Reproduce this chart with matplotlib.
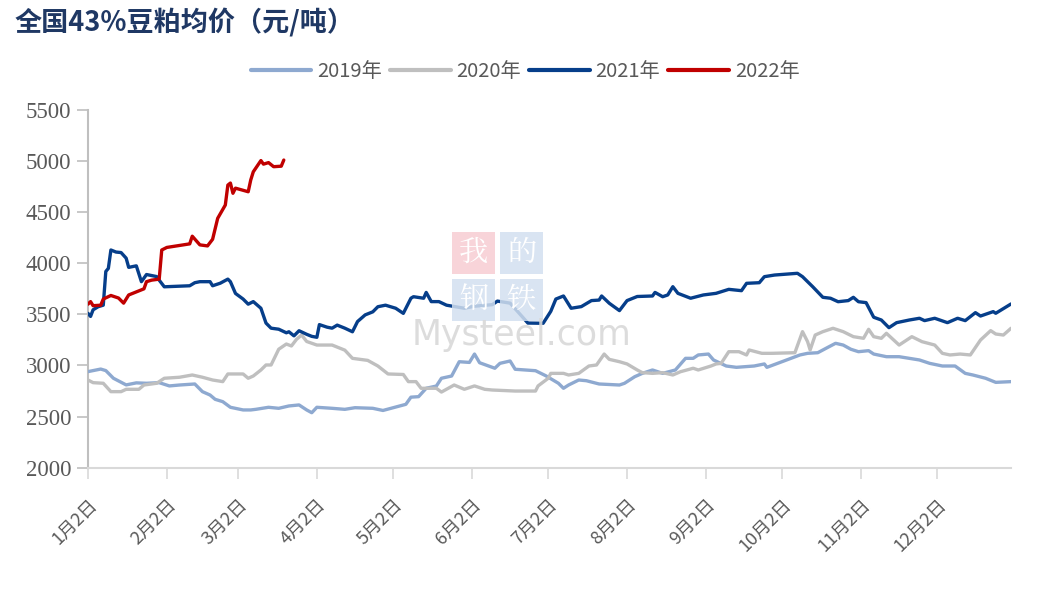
import matplotlib
matplotlib.use("Agg")
import matplotlib.pyplot as plt
import pandas as pd

plt.rcParams['font.family'] = ['Noto Sans CJK SC', 'DejaVu Sans']

# 全国43%豆粕均价 (month-day, 元/吨)
d2019 = ["01-02", "01-07", "01-09", "01-12", "01-17", "01-21", "01-25", "01-30", "02-03", "02-07",
         "02-13", "02-16", "02-19", "02-21", "02-24", "02-27", "03-04", "03-07", "03-09", "03-14",
         "03-18", "03-22", "03-26", "03-29", "03-31", "04-02", "04-08", "04-13", "04-17", "04-24",
         "04-28", "05-04", "05-07", "05-09", "05-12", "05-15", "05-19", "05-21", "05-25", "05-28",
         "06-01", "06-03", "06-05", "06-11", "06-13", "06-17", "06-19", "06-27", "07-01", "07-06",
         "07-08", "07-10", "07-14", "07-17", "07-22", "07-30", "08-01", "08-05", "08-08", "08-12",
         "08-16", "08-21", "08-25", "08-28", "08-30", "09-03", "09-05", "09-10", "09-14", "09-21",
         "09-25", "09-26", "10-03", "10-09", "10-12", "10-16", "10-20", "10-23", "10-26", "10-29",
         "11-01", "11-05", "11-07", "11-12", "11-17", "11-21", "11-25", "11-29", "12-04", "12-09",
         "12-13", "12-16", "12-21", "12-25", "12-31"]
v2019 = [2940, 2965, 2950, 2875, 2810, 2830, 2826, 2832, 2800, 2809,
         2819, 2744, 2711, 2669, 2646, 2591, 2565, 2565, 2571, 2591,
         2581, 2604, 2614, 2565, 2538, 2591, 2581, 2571, 2587, 2581,
         2560, 2600, 2620, 2690, 2695, 2777, 2799, 2875, 2897, 3037,
         3030, 3112, 3027, 2973, 3021, 3044, 2963, 2949, 2900, 2826,
         2777, 2809, 2858, 2851, 2819, 2809, 2826, 2890, 2923, 2956,
         2923, 2956, 3070, 3070, 3103, 3112, 3054, 2995, 2982, 2995,
         3015, 2982, 3047, 3103, 3119, 3125, 3178, 3217, 3200, 3159,
         3135, 3145, 3112, 3086, 3086, 3070, 3054, 3021, 2995, 2995,
         2923, 2907, 2875, 2835, 2842]

d2020 = ["01-02", "01-04", "01-08", "01-11", "01-15", "01-17", "01-22", "01-24", "01-29", "02-01",
         "02-07", "02-12", "02-16", "02-20", "02-24", "02-26", "03-04", "03-06", "03-08", "03-11",
         "03-13", "03-15", "03-18", "03-21", "03-23", "03-25", "03-27", "03-29", "04-02", "04-08",
         "04-13", "04-16", "04-22", "04-26", "04-30", "05-06", "05-08", "05-11", "05-13", "05-19",
         "05-21", "05-26", "05-30", "06-03", "06-07", "06-10", "06-19", "06-27", "06-28", "07-02",
         "07-03", "07-08", "07-10", "07-14", "07-18", "07-21", "07-24", "07-26", "07-30", "08-02",
         "08-06", "08-08", "08-12", "08-16", "08-20", "08-23", "08-28", "08-30", "09-04", "09-06",
         "09-08", "09-11", "09-15", "09-18", "09-19", "09-24", "09-28", "10-07", "10-10", "10-12",
         "10-13", "10-15", "10-18", "10-22", "10-26", "10-30", "11-03", "11-05", "11-07", "11-10",
         "11-12", "11-17", "11-22", "11-26", "12-01", "12-04", "12-07", "12-11", "12-15", "12-19",
         "12-23", "12-25", "12-28", "12-31"]
v2020 = [2858, 2832, 2826, 2744, 2744, 2767, 2767, 2809, 2826, 2875,
         2885, 2907, 2885, 2858, 2842, 2917, 2917, 2875, 2897, 2956,
         3005, 3005, 3159, 3210, 3191, 3256, 3298, 3235, 3200, 3200,
         3150, 3070, 3050, 2995, 2917, 2912, 2842, 2842, 2777, 2777,
         2740, 2809, 2767, 2800, 2767, 2760, 2750, 2750, 2800, 2875,
         2923, 2923, 2907, 2923, 2995, 3005, 3112, 3060, 3037, 3015,
         2956, 2930, 2923, 2930, 2907, 2939, 2973, 2956, 2995, 3015,
         3021, 3135, 3135, 3103, 3152, 3119, 3119, 3125, 3331, 3233,
         3152, 3298, 3331, 3364, 3331, 3282, 3266, 3354, 3282, 3266,
         3315, 3200, 3282, 3233, 3200, 3119, 3103, 3112, 3103, 3249,
         3341, 3308, 3298, 3364]

d2021 = ["01-02", "01-03", "01-04", "01-06", "01-08", "01-09", "01-10", "01-11", "01-13", "01-15",
         "01-17", "01-18", "01-21", "01-23", "01-25", "01-29", "01-30", "02-01", "02-11", "02-13",
         "02-15", "02-19", "02-20", "02-23", "02-26", "02-27", "03-01", "03-04", "03-06", "03-08",
         "03-11", "03-13", "03-15", "03-18", "03-21", "03-22", "03-24", "03-26", "03-29", "03-31",
         "04-02", "04-03", "04-06", "04-08", "04-10", "04-13", "04-16", "04-18", "04-21", "04-24",
         "04-26", "04-29", "05-03", "05-06", "05-09", "05-10", "05-14", "05-15", "05-17", "05-20",
         "05-23", "05-30", "06-03", "06-10", "06-12", "06-17", "06-20", "06-24", "06-30", "07-03",
         "07-05", "07-08", "07-11", "07-15", "07-19", "07-22", "07-23", "07-26", "07-30", "08-02",
         "08-06", "08-12", "08-13", "08-16", "08-18", "08-20", "08-22", "08-27", "09-01", "09-06",
         "09-11", "09-16", "09-18", "09-23", "09-25", "09-29", "10-08", "10-10", "10-14", "10-18",
         "10-21", "10-24", "10-28", "10-30", "11-01", "11-04", "11-07", "11-10", "11-13", "11-16",
         "11-21", "11-25", "11-27", "12-01", "12-06", "12-10", "12-13", "12-17", "12-19", "12-24",
         "12-25", "12-31"]
v2021 = [3510, 3480, 3545, 3575, 3590, 3920, 3950, 4130, 4110, 4105,
         4050, 3960, 3975, 3820, 3890, 3870, 3835, 3770, 3780, 3810,
         3820, 3820, 3780, 3805, 3845, 3820, 3705, 3650, 3600, 3625,
         3560, 3415, 3365, 3355, 3320, 3330, 3290, 3340, 3305, 3285,
         3276, 3400, 3375, 3365, 3395, 3365, 3330, 3430, 3495, 3525,
         3575, 3590, 3560, 3510, 3658, 3673, 3658, 3715, 3625, 3625,
         3590, 3560, 3580, 3595, 3630, 3610, 3527, 3415, 3413, 3530,
         3650, 3680, 3560, 3576, 3635, 3640, 3680, 3609, 3537, 3635,
         3675, 3680, 3715, 3673, 3690, 3771, 3706, 3658, 3690, 3706,
         3745, 3732, 3804, 3810, 3869, 3885, 3902, 3869, 3771, 3667,
         3658, 3624, 3635, 3667, 3624, 3615, 3472, 3445, 3370, 3419,
         3445, 3462, 3439, 3462, 3419, 3462, 3439, 3517, 3484, 3527,
         3511, 3602]

d2022 = ["01-02", "01-03", "01-04", "01-07", "01-08", "01-11", "01-14", "01-16", "01-18", "01-22",
         "01-24", "01-25", "01-27", "01-30", "01-31", "02-02", "02-11", "02-12", "02-15", "02-18",
         "02-20", "02-22", "02-25", "02-26", "02-27", "02-28", "03-01", "03-06", "03-07", "03-08",
         "03-11", "03-12", "03-14", "03-16", "03-19", "03-20"]
v2022 = [3600, 3625, 3585, 3590, 3650, 3685, 3660, 3610, 3690, 3730,
         3750, 3820, 3835, 3845, 4130, 4155, 4190, 4265, 4180, 4170,
         4235, 4440, 4570, 4765, 4785, 4685, 4735, 4700, 4815, 4895,
         5005, 4970, 4985, 4945, 4950, 5010]

series = [("2019年", d2019, v2019, "#8EA9D0"),
          ("2020年", d2020, v2020, "#BFBFBF"),
          ("2021年", d2021, v2021, "#063E8A"),
          ("2022年", d2022, v2022, "#C00000")]

month_ticks = ["%02d-02" % m for m in range(1, 13)]
tick_labels = ["%d月2日" % m for m in range(1, 13)]
yticks = list(range(2000, 5501, 500))


def to_dates(md):
    return pd.to_datetime(["2021-" + s for s in md])


fig = plt.figure(figsize=(10.44, 5.90), dpi=100)
ax = fig.add_axes([0.0843, 0.2073, 0.8841, 0.6063])

for name, d, v, c in series:
    ax.plot(to_dates(d), v, color=c, lw=2.4, label=name, zorder=3,
            solid_joinstyle='round', solid_capstyle='round')

ax.set_xlim(pd.Timestamp("2021-01-02"), pd.Timestamp("2021-12-31"))
ax.set_ylim(2000, 5500)
ax.set_yticks(yticks)
ax.set_yticklabels([str(t) for t in yticks], family='Liberation Serif',
                   fontsize=16.5, color='#595959')
ax.set_xticks(to_dates(month_ticks))
ax.set_xticklabels(tick_labels, rotation=45, ha='right', rotation_mode='anchor',
                   fontsize=13, color='#595959')

for s in ['top', 'right']:
    ax.spines[s].set_visible(False)
ax.spines['left'].set_color('#BFBFBF')
ax.spines['bottom'].set_color('#D9D9D9')
ax.spines['left'].set_linewidth(1.5)
ax.spines['bottom'].set_linewidth(1.5)
ax.tick_params(axis='y', length=8, width=1.2, color='#BFBFBF', pad=4)
ax.tick_params(axis='x', length=8, width=1.2, color='#D9D9D9', pad=12)

# watermark
wm = dict(transform=fig.transFigure, zorder=1)
boxes = [("我", 0.4535, 0.5715, '#F7CDD3'), ("的", 0.4995, 0.5715, '#D3E0F0'),
         ("钢", 0.4535, 0.4915, '#D3E0F0'), ("铁", 0.4995, 0.4915, '#D3E0F0')]
for ch, x, y, bg in boxes:
    fig.patches.append(plt.Rectangle((x - 0.0205, y - 0.0355), 0.041, 0.071,
                                     facecolor=bg, edgecolor='none', alpha=0.85, **wm))
    fig.text(x, y, ch, ha='center', va='center', fontsize=21, color='white',
             family=['Noto Serif CJK SC', 'Noto Sans CJK SC'], **wm)
fig.text(0.500, 0.433, "Mysteel.com", ha='center', va='center', fontsize=25,
         color='#D9D9D9', family='DejaVu Sans', alpha=0.9, **wm)

fig.text(0.014, 0.962, "全国43%豆粕均价（元/吨）", ha='left', va='center',
         fontsize=19.5, fontweight='bold', color='#1F3864')

leg = fig.legend(loc='center', bbox_to_anchor=(0.503, 0.878), ncol=4, frameon=False,
                 fontsize=14.5, handlelength=3.0, handletextpad=0.3, columnspacing=0.4)
for t in leg.get_texts():
    t.set_color('#595959')
for l in leg.get_lines():
    l.set_linewidth(3)

fig.savefig("out.png", dpi=100)
